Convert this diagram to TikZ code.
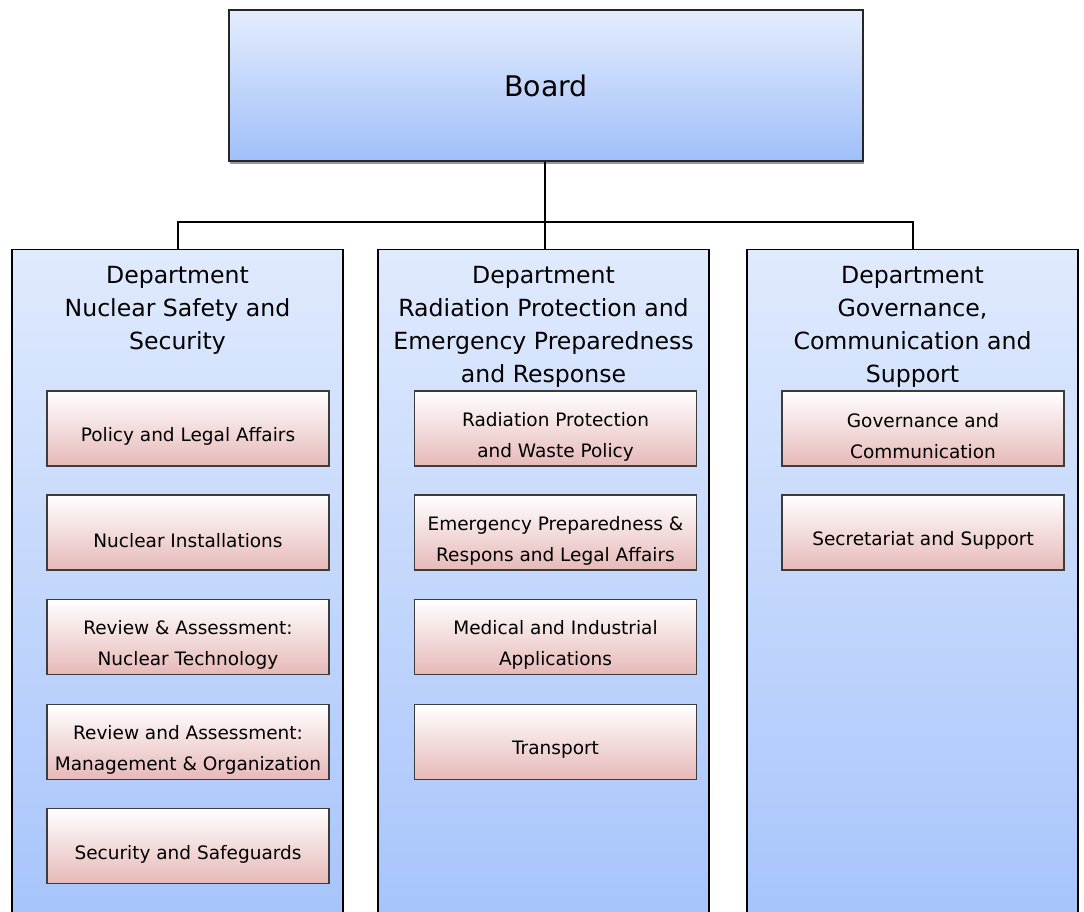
\documentclass[tikz,border=0pt]{standalone}
\usepackage{fontspec}
\setmainfont{DejaVu Sans}
\usetikzlibrary{positioning,shadows}

\definecolor{boardtop}{HTML}{E4EDFD}
\definecolor{boardbot}{HTML}{A0BFFA}
\definecolor{depttop}{HTML}{E0EAFD}
\definecolor{deptbot}{HTML}{A3C2FB}
\definecolor{subbot}{HTML}{E6B9B8}
\definecolor{subline}{HTML}{3C3C3C}

\tikzset{
  board/.style={draw=black!85, line width=1.3pt, top color=boardtop, bottom color=boardbot,
    minimum width=634pt, minimum height=151pt, inner sep=0pt,
    drop shadow={shadow xshift=1pt, shadow yshift=-3pt, fill=black!40, opacity=1},
    font=\fontsize{28.4}{34}\selectfont},
  dept/.style={draw=black, line width=1.4pt, top color=depttop, bottom color=deptbot,
    minimum width=331pt, minimum height=711pt, anchor=north, inner sep=0pt},
  depttitle/.style={align=center, inner sep=0pt, font=\fontsize{23.6}{33}\selectfont},
  sub/.style={draw=subline, line width=1.2pt, top color=white, bottom color=subbot,
    minimum width=282pt, minimum height=75pt, inner sep=0pt},
  subtext/.style={align=center, inner sep=0pt, yshift=-8pt, font=\fontsize{18.5}{31}\selectfont},
  wire/.style={line width=2pt}
}

\begin{document}
\begin{tikzpicture}[x=1pt, y=-1pt]
    \useasboundingbox (0,0) rectangle (1084,911);
    \clip (0,0) rectangle (1084,911);

    \node [board] (board) at (546,85.5) {Board};

    % departments
    \node [dept] (nss) at (177.5,249) {};
    \node [dept] (rpe) at (543.5,249) {};
    \node [dept] (gcs) at (912.5,249) {};
    \node [depttitle, below=17pt of nss.north] (nss-t) {Department\\Nuclear Safety and\\Security};
    \node [depttitle, below=17pt of rpe.north] (rpe-t) {Department\\Radiation Protection and\\Emergency Preparedness\\and Response};
    \node [depttitle, below=17pt of gcs.north] (gcs-t) {Department\\Governance,\\Communication and\\Support};

    \coordinate (hub) at (545,222);
    \draw [wire] (board.south -| hub) -- (rpe.north -| hub);
    \draw [wire] (nss.north) |- (hub) -| (gcs.north);

    % units, left column
    \node [sub, label={[subtext]center:Policy and Legal Affairs}] (pla) at (188,428.5) {};
    \node [sub, label={[subtext]center:Nuclear Installations}] (ni) at (188,532.5) {};
    \node [sub, label={[subtext]center:{Review \& Assessment:\\Nuclear Technology}}] (rant) at (188,637) {};
    \node [sub, label={[subtext]center:{Review and Assessment:\\Management \& Organization}}] (ramo) at (188,742) {};
    \node [sub, label={[subtext]center:Security and Safeguards}] (ss) at (188,846) {};

    % units, middle column
    \node [sub, label={[subtext]center:{Radiation Protection\\and Waste Policy}}] (rpwp) at (555.5,428.5) {};
    \node [sub, label={[subtext]center:{Emergency Preparedness \&\\Respons and Legal Affairs}}] (epr) at (555.5,532.5) {};
    \node [sub, label={[subtext]center:{Medical and Industrial\\Applications}}] (mia) at (555.5,637) {};
    \node [sub, label={[subtext]center:Transport}] (tr) at (555.5,742) {};

    % units, right column
    \node [sub, label={[subtext]center:{Governance and\\Communication}}] (gc) at (923,428.5) {};
    \node [sub, label={[subtext]center:Secretariat and Support}] (sas) at (923,532.5) {};
\end{tikzpicture}
\end{document}
